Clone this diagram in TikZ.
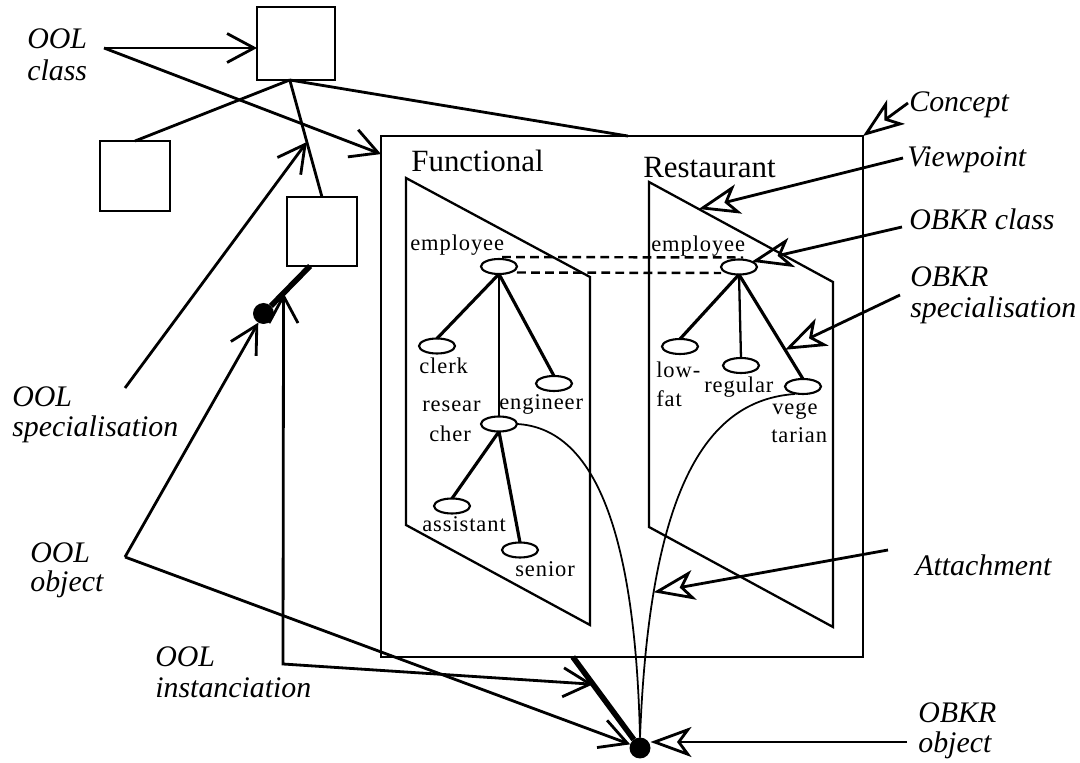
\documentclass[tikz,border=0pt]{standalone}
\usepackage{fontspec}
\setmainfont{Liberation Serif}
\newfontfamily\smallserif[LetterSpace=4]{Liberation Serif}
\usetikzlibrary{arrows.meta,calc,shapes.geometric}
\begin{document}
\begin{tikzpicture}[x=0.02cm,y=-0.02cm,
  sqbox/.style={draw, line width=1.3pt, inner sep=0, outer sep=0, minimum width=1.4cm, minimum height=1.4cm},
  lnk/.style={line width=1.6pt},
  barb/.style={lnk, -{Straight Barb[length=5.4mm,width=5.8mm]}},
  barbboth/.style={lnk, {Straight Barb[length=5.4mm,width=5.8mm]}-{Straight Barb[length=5.4mm,width=5.8mm]}},
  notch/.style={lnk, -{Stealth[open,length=8.2mm,width=6mm,inset=2.2mm]}},
  heavy/.style={line width=3.2pt},
  att/.style={line width=1pt},
  vpline/.style={line width=1.3pt},
  tedge/.style={line width=1.8pt},
  tedgethin/.style={line width=1.3pt},
  dashl/.style={line width=1.4pt, dash pattern=on 5pt off 3pt},
  cl/.style={ellipse, draw, line width=1.2pt, minimum width=0.72cm, minimum height=0.3cm, inner sep=0, outer sep=0},
  dot/.style={circle, fill=black, minimum size=0.42cm, inner sep=0, outer sep=0},
  lbl/.style={font=\fontsize{17}{20}\selectfont\itshape, inner sep=0, anchor=base west},
  vpt/.style={font=\fontsize{17.6}{20}\selectfont, inner sep=0, anchor=base west},
  cls/.style={font=\smallserif\fontsize{12.8}{14}\selectfont, inner sep=0, anchor=base west}
]
\useasboundingbox (0,0) rectangle (1080,763);

% OOL class boxes
\node[sqbox, minimum width=1.56cm, minimum height=1.46cm] (s1) at (296,43.5) {};
\node[sqbox] (s2) at (135,176) {};
\node[sqbox, minimum height=1.38cm] (s3) at (322,231.5) {};

% Concept box
\node[draw, line width=1.3pt, inner sep=0, outer sep=0, minimum width=9.64cm, minimum height=10.42cm] (concept) at (622,396.5) {};

% viewpoints
\coordinate (f1) at (406,178);
\coordinate (f2) at (590,277);
\coordinate (f3) at (590,625);
\coordinate (f4) at (406,525);
\coordinate (r1) at (649,182);
\coordinate (r2) at (833,282);
\coordinate (r3) at (833,627);
\coordinate (r4) at (649,527);
\draw[vpline] (f1) -- (f2) -- (f3) -- (f4) -- cycle;
\draw[vpline] (r1) -- (r2) -- (r3) -- (r4) -- cycle;
\node[vpt] (fun) at (411,172) {Functional};
\node[vpt] (res) at (643,178) {Restaurant};

% OBKR classes
\node[cl] (fe) at (499,266.5) {};
\node[cl] (fc) at (437,346) {};
\node[cl] (fg) at (554,383.5) {};
\node[cl] (fr) at (499,424) {};
\node[cl] (fa) at (452,506) {};
\node[cl] (fs) at (520,550) {};
\node[cl] (re) at (739,267) {};
\node[cl] (rl) at (680,346.5) {};
\node[cl] (rg) at (741,365.5) {};
\node[cl] (rv) at (803,386.5) {};

\node[cls] (tfe) at (410,251) {employee};
\node[cls] (tfc) at (419,374) {clerk};
\node[cls] (tfg) at (499,410) {engineer};
\node[cls] (tfr1) at (422,412) {resear};
\node[cls] (tfr2) at (429,442) {cher};
\node[cls] (tfa) at (422,532) {assistant};
\node[cls] (tfs) at (515,577) {senior};
\node[cls] (tre) at (651,252) {employee};
\node[cls] (trl1) at (656,378) {low-};
\node[cls] (trl2) at (656,407) {fat};
\node[cls] (trg) at (704,393) {regular};
\node[cls] (trv1) at (772,415) {vege};
\node[cls] (trv2) at (771,443) {tarian};

% OBKR specialisations
\draw[tedge] (fe.south) -- (fc.north);
\draw[tedgethin] (fe.south) -- (fr.north);
\draw[tedge] (fe.south) -- (fg.north);
\draw[tedge] (fr.south) -- (fa.north);
\draw[tedge] (fr.south) -- (fs.north);
\draw[tedge] (re.south) -- (rl.north);
\draw[tedgethin] (re.south) -- (rg.north);
\draw[tedge] (re.south) -- (rv.north);

% correspondence between viewpoints
\draw[dashl] ($(fe.north)+(3,-2)$) -- ($(re.north)+(4,-2)$);
\draw[dashl] ($(fe.east)+(0,6)$) -- ($(re.west)+(0,6)$);

% objects
\node[dot] (d1) at (263.5,313.5) {};
\node[dot] (d2) at (640,748) {};

% OOL specialisation lines
\coordinate (s1b) at ($(s1.south west)!0.42!(s1.south east)$);
\coordinate (ctop) at ($(concept.north)+(6,0)$);
\draw[lnk] (s2.north) -- (s1b);
\draw[lnk] (s1b) -- (s3.north);
\draw[lnk] (s1b) -- (ctop);

% instanciation links (thick)
\coordinate (s3b) at ($(s3.south west)!0.33!(s3.south east)$);
\coordinate (cbot) at ($(concept.south west)!0.398!(concept.south east)$);
\draw[heavy] (s3b) -- (d1);
\draw[heavy] (cbot) -- (d2);

% attachments
\draw[att] (fr.east) .. controls (590,428) and (635,520) .. (d2.north);
\draw[att] ($(rv.south)+(-8,0)$) .. controls (710,400) and (650,480) .. coordinate[pos=0.78] (attp) (d2.north);

% labels
\node[lbl] (l1a) at (27,49) {OOL};
\node[lbl] (l1b) at (27,81) {class};
\node[lbl] (l2) at (909,112) {Concept};
\node[lbl] (l3) at (907,167) {Viewpoint};
\node[lbl] (l4) at (909,230) {OBKR class};
\node[lbl] (l5a) at (910,287) {OBKR};
\node[lbl] (l5b) at (910,318) {specialisation};
\node[lbl] (l6a) at (12,407) {OOL};
\node[lbl] (l6b) at (12,437) {specialisation};
\node[lbl] (l7a) at (30,563) {OOL};
\node[lbl] (l7b) at (30,592) {object};
\node[lbl] (l8a) at (155,667) {OOL};
\node[lbl] (l8b) at (155,698) {instanciation};
\node[lbl] (l9) at (915,576) {Attachment};
\node[lbl] (l10a) at (918,723) {OBKR};
\node[lbl] (l10b) at (918,753) {object};

% label connectors
\coordinate (oolc) at (104,48);
\draw[barb] (oolc) -- (oolc -| s1.west);
\draw[barb] (oolc) -- ($(concept.north west)+(0,18)$);

\coordinate (oolsp) at (125,388);
\coordinate (spt) at ($(s1b)!0.53!(s3.north)$);
\draw[barb] (oolsp) -- (spt);

\coordinate (oolob) at (125,557);
\draw[barb] (oolob) -- (d1);
\draw[barb] (oolob) -- (d2);

\coordinate (i1) at ($(s3b)!0.57!(d1)$);
\coordinate (icorner) at (283,664);
\coordinate (i2) at ($(cbot)!0.3!(d2)$);
\draw[barbboth] (i1) -- (icorner) -- (i2);

\coordinate (conc) at (908,103);
\draw[notch] (conc) -- (concept.north east);
\coordinate (vpc) at (903,158);
\coordinate (rvp) at ($(r1)!0.27!(r2)$);
\draw[notch] (vpc) -- (rvp);
\coordinate (obc) at (902,227);
\draw[notch] (obc) -- (re.north east);
\coordinate (obs) at (900,295);
\coordinate (rvs) at ($(re.south)!0.72!(rv.north)$);
\draw[notch] (obs) -- (rvs);
\coordinate (attc) at (888,550);
\draw[notch] (attc) -- (attp);
\coordinate (obo) at (907,742);
\draw[notch] (obo) -- (obo -| d2.east);
\end{tikzpicture}
\end{document}
